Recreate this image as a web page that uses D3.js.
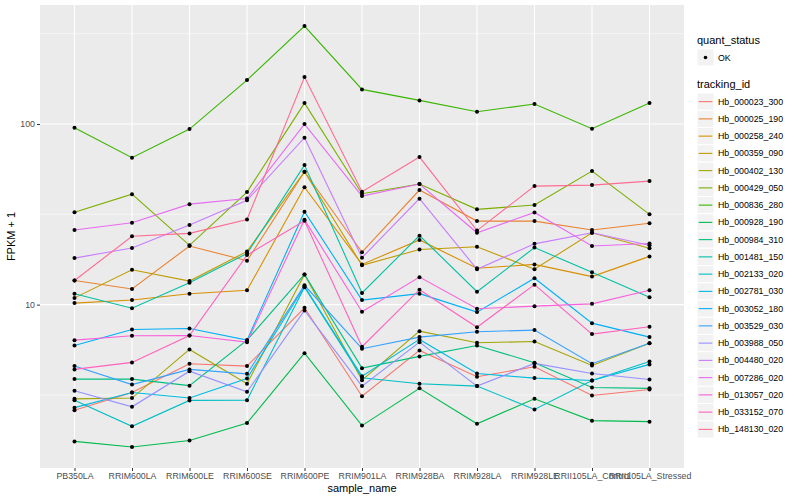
<!DOCTYPE html>
<html>
<head>
<meta charset="utf-8">
<script src="https://cdn.jsdelivr.net/npm/d3@7"></script>
<style>
  body { margin: 0; background: #fff; }
  text { font-family: "Liberation Sans", Arial, sans-serif; }
</style>
</head>
<body>
<svg id="plot" width="800" height="500"></svg>
<script>
// sample names on the x axis
const samples = ['PB350LA', 'RRIM600LA', 'RRIM600LE', 'RRIM600SE', 'RRIM600PE', 'RRIM901LA',
    'RRIM928BA', 'RRIM928LA', 'RRIM928LE', 'RRII105LA_Control', 'RRII105LA_Stressed'];

const trackingIds = ['Hb_000023_300', 'Hb_000025_190', 'Hb_000258_240', 'Hb_000359_090', 'Hb_000402_130',
    'Hb_000429_050', 'Hb_000836_280', 'Hb_000928_190', 'Hb_000984_310', 'Hb_001481_150',
    'Hb_002133_020', 'Hb_002781_030', 'Hb_003052_180', 'Hb_003529_030', 'Hb_003988_050',
    'Hb_004480_020', 'Hb_007286_020', 'Hb_013057_020', 'Hb_033152_070', 'Hb_148130_020'];

// FPKM + 1, one array per gene, in sample order
const hb_000023_300 = [2.60, 3.26, 4.71, 4.57, 9.61, 3.11, 5.58, 3.99, 4.53, 3.14, 3.39];
const hb_000025_190 = [13.6, 12.2, 21.1, 17.5, 54.4, 19.5, 43.1, 29.0, 29.0, 25.9, 28.2];
const hb_000258_240 = [10.2, 10.6, 11.5, 12.0, 44.7, 16.7, 22.8, 15.9, 16.7, 14.3, 18.5];
const hb_000359_090 = [10.9, 15.6, 13.5, 19.7, 54.4, 16.5, 20.2, 20.9, 15.7, 25.0, 20.5];
const hb_000402_130 = [3.01, 3.04, 5.65, 3.65, 14.7, 3.82, 7.13, 6.15, 6.25, 4.61, 6.12];
const hb_000429_050 = [32.5, 40.9, 21.3, 42.0, 130.5, 41.1, 46.5, 33.7, 35.6, 54.9, 31.6];
const hb_000836_280 = [95.4, 65.1, 93.7, 175.1, 348.5, 155.4, 135.1, 117.0, 128.9, 94.2, 130.6];
const hb_000928_190 = [1.75, 1.63, 1.77, 2.21, 5.39, 2.14, 3.44, 2.19, 3.01, 2.28, 2.25];
const hb_000984_310 = [3.87, 3.87, 3.56, 6.36, 14.7, 4.45, 5.17, 5.94, 4.77, 3.48, 3.44];
const hb_001481_150 = [11.5, 9.56, 13.2, 19.2, 59.2, 11.6, 24.1, 11.8, 20.7, 15.1, 11.0];
const hb_002133_020 = [2.96, 2.12, 2.95, 2.96, 12.5, 3.94, 3.65, 3.54, 2.63, 3.80, 4.85];
const hb_002781_030 = [2.69, 3.26, 3.04, 3.90, 12.6, 4.02, 6.42, 4.16, 3.92, 3.80, 4.67];
const hb_003052_180 = [5.94, 7.29, 7.38, 6.36, 32.7, 10.6, 11.5, 9.09, 14.0, 7.90, 6.61];
const hb_003529_030 = [4.57, 3.61, 4.38, 4.14, 12.8, 5.70, 6.61, 7.08, 7.23, 4.71, 6.12];
const hb_003988_050 = [3.34, 2.72, 4.28, 3.29, 9.29, 3.54, 6.20, 3.54, 4.73, 4.16, 3.85];
const hb_004480_020 = [18.1, 20.6, 27.6, 37.8, 84.0, 18.2, 38.6, 15.7, 21.7, 25.0, 21.3];
const hb_007286_020 = [25.9, 28.4, 36.0, 38.7, 99.9, 39.9, 46.5, 25.0, 32.4, 21.1, 21.8];
const hb_013057_020 = [6.36, 6.73, 6.75, 6.20, 29.5, 9.13, 14.2, 9.49, 9.81, 10.1, 12.0];
const hb_033152_070 = [4.38, 4.79, 6.75, 18.8, 29.1, 5.85, 12.1, 7.50, 12.9, 6.87, 7.54];
const hb_148130_020 = [13.6, 23.9, 24.8, 29.6, 181.9, 42.2, 65.6, 25.7, 45.3, 45.9, 48.3];

const fpkm = [hb_000023_300, hb_000025_190, hb_000258_240, hb_000359_090, hb_000402_130,
    hb_000429_050, hb_000836_280, hb_000928_190, hb_000984_310, hb_001481_150,
    hb_002133_020, hb_002781_030, hb_003052_180, hb_003529_030, hb_003988_050,
    hb_004480_020, hb_007286_020, hb_013057_020, hb_033152_070, hb_148130_020];

const yTicks = [10, 100];
const yMinor = [Math.sqrt(10), Math.sqrt(1000), Math.sqrt(100000)];

// ggplot default hue palette for 20 groups
const palette = ['#F8766D', '#EA8331', '#D89000', '#C09B00', '#A3A500', '#7CAE00', '#39B600',
    '#00BB4E', '#00BF7D', '#00C1A3', '#00BFC4', '#00BAE0', '#00B0F6', '#35A2FF', '#9590FF',
    '#C77CFF', '#E76BF3', '#FA62DB', '#FF62BC', '#FF6C91'];

let svg = d3.select('#plot');
let panel = {left: 40, right: 684, top: 5, bottom: 468};

let xScale = d3.scalePoint().domain(samples).range([panel.left, panel.right]).padding(0.6);

// log scale with the 5% expansion ggplot adds
let allVals = fpkm.flat();
let lo = Math.log10(d3.min(allVals)), hi = Math.log10(d3.max(allVals));
let pad = (hi - lo) * 0.05;
let yScale = d3.scaleLog()
    .domain([Math.pow(10, lo - pad), Math.pow(10, hi + pad)])
    .range([panel.bottom, panel.top]);

// panel background and grid
svg.append('rect')
    .attr('x', panel.left).attr('y', panel.top)
    .attr('width', panel.right - panel.left).attr('height', panel.bottom - panel.top)
    .attr('fill', '#EBEBEB');

svg.selectAll('line.minor')
    .data(yMinor.filter(v => v > yScale.domain()[0] && v < yScale.domain()[1]))
    .enter().append('line')
    .attr('x1', panel.left).attr('x2', panel.right)
    .attr('y1', d => yScale(d)).attr('y2', d => yScale(d))
    .attr('stroke', '#fff').attr('stroke-width', 0.55);

svg.selectAll('line.ymajor')
    .data(yTicks)
    .enter().append('line')
    .attr('x1', panel.left).attr('x2', panel.right)
    .attr('y1', d => yScale(d)).attr('y2', d => yScale(d))
    .attr('stroke', '#fff').attr('stroke-width', 1.1);

svg.selectAll('line.xmajor')
    .data(samples)
    .enter().append('line')
    .attr('x1', d => xScale(d)).attr('x2', d => xScale(d))
    .attr('y1', panel.top).attr('y2', panel.bottom)
    .attr('stroke', '#fff').attr('stroke-width', 1.1);

// axes
let xAxis = svg.append('g')
    .attr('transform', `translate(0,${panel.bottom})`)
    .call(d3.axisBottom(xScale).tickSize(3).tickPadding(2));
let yAxis = svg.append('g')
    .attr('transform', `translate(${panel.left},0)`)
    .call(d3.axisLeft(yScale).tickValues(yTicks).tickFormat(d3.format('d')).tickSize(3).tickPadding(2));

[xAxis, yAxis].forEach(g => {
    g.select('.domain').remove();
    g.selectAll('.tick line').attr('stroke', '#333333');
    g.selectAll('.tick text').attr('fill', '#4D4D4D').style('font-size', '8.8px')
        .style('font-family', '"Liberation Sans", Arial, sans-serif');
});

svg.append('text')
    .attr('x', (panel.left + panel.right) / 2).attr('y', 492)
    .attr('text-anchor', 'middle').style('font-size', '11px')
    .text('sample_name');

svg.append('text')
    .attr('transform', `translate(15,${(panel.top + panel.bottom) / 2}) rotate(-90)`)
    .attr('text-anchor', 'middle').style('font-size', '11px')
    .text('FPKM + 1');

// lines
let line = d3.line()
    .x((d, i) => xScale(samples[i]))
    .y(d => yScale(d));

svg.append('g').selectAll('path')
    .data(fpkm)
    .enter().append('path')
    .attr('d', d => line(d))
    .attr('fill', 'none')
    .attr('stroke', (d, i) => palette[i])
    .attr('stroke-width', 1.1);

// points
let pts = [];
fpkm.forEach(vals => vals.forEach((v, i) => pts.push([samples[i], v])));
svg.append('g').selectAll('circle')
    .data(pts)
    .enter().append('circle')
    .attr('cx', d => xScale(d[0]))
    .attr('cy', d => yScale(d[1]))
    .attr('r', 2)
    .attr('fill', '#000');

// legend
let lg = svg.append('g').attr('transform', 'translate(697,0)');
lg.append('text').attr('x', 0).attr('y', 44).style('font-size', '11px').text('quant_status');
lg.append('rect').attr('x', 0).attr('y', 49).attr('width', 17).attr('height', 17)
    .attr('fill', '#F2F2F2').attr('stroke', '#fff');
lg.append('circle').attr('cx', 8.5).attr('cy', 57.5).attr('r', 1.8).attr('fill', '#000');
lg.append('text').attr('x', 21).attr('y', 60.5).style('font-size', '8.8px').text('OK');

lg.append('text').attr('x', 0).attr('y', 88).style('font-size', '11px').text('tracking_id');
let keyH = 17.25;
let keys = lg.selectAll('g.key')
    .data(trackingIds)
    .enter().append('g')
    .attr('transform', (d, i) => `translate(0,${93 + i * keyH})`);
keys.append('rect').attr('width', 17).attr('height', keyH)
    .attr('fill', '#F2F2F2').attr('stroke', '#fff');
keys.append('line').attr('x1', 1.7).attr('x2', 15.3)
    .attr('y1', keyH / 2).attr('y2', keyH / 2)
    .attr('stroke', (d, i) => palette[i]).attr('stroke-width', 1.1);
keys.append('text').attr('x', 21).attr('y', keyH / 2 + 3.1)
    .style('font-size', '8.8px').text(d => d);
</script>
</body>
</html>
